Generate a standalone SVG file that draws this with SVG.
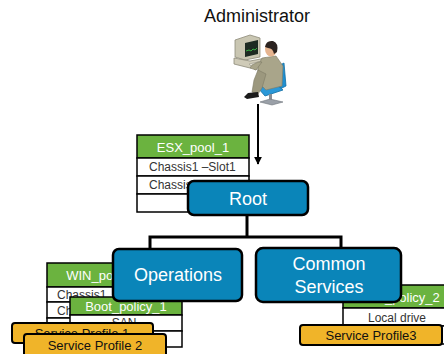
<svg xmlns="http://www.w3.org/2000/svg" width="444" height="354" viewBox="0 0 444 354">
  <defs>
    <style>
      .t { font-family: "Liberation Sans", Arial, sans-serif; }
      .node { fill: #0a85b9; stroke: #000; stroke-width: 2.5; }
      .nodeText { fill: #fff; font-size: 18px; text-anchor: middle; }
      .hdr { fill: #6bb33f; stroke: #000; stroke-width: 1.5; }
      .hdrText { fill: #fff; font-size: 13px; text-anchor: middle; }
      .row { fill: #fff; stroke: #000; stroke-width: 1.5; }
      .rowText { fill: #333; font-size: 12px; }
      .prof { fill: #f0b429; stroke: #000; stroke-width: 2; }
      .profText { fill: #111; font-size: 13px; text-anchor: middle; }
      .wire { fill: none; stroke: #000; stroke-width: 3; }
    </style>
    <marker id="arrow" viewBox="0 0 10 10" refX="9" refY="5" markerWidth="4" markerHeight="4" orient="auto">
      <path d="M0,0 L10,5 L0,10 z" fill="#000"/>
    </marker>
  </defs>

  <rect width="444" height="354" fill="#fff"/>

  <!-- administrator -->
  <g id="admin">
    <text class="t" x="257" y="22" font-size="18" text-anchor="middle" fill="#111">Administrator</text>
    <!-- desk computer -->
    <polygon points="235,40 250,35 260,38 260,57 245,60 235,57" fill="#c9c6b2" stroke="#8d8a78" stroke-width="0.8"/>
    <polygon points="245,43 258,40 258,54 245,57" fill="#1d2a22"/>
    <polyline points="246,51 249,50 251,51 253,49 255,50 257,48" fill="none" stroke="#3fd14a" stroke-width="0.8"/>
    <polygon points="234,58 250,61 266,58 266,64 250,68 234,64" fill="#cfcbb8" stroke="#8d8a78" stroke-width="0.8"/>
    <polygon points="249,64 262,61 268,66 255,70" fill="#e2e0d4" stroke="#9b988a" stroke-width="0.6"/>
    <!-- chair -->
    <polygon points="270,70 284,63 286,86 272,93" fill="#1f8fd0" stroke="#126fa5" stroke-width="0.8"/>
    <polygon points="258,88 276,84 283,90 265,96" fill="#2a98d8" stroke="#126fa5" stroke-width="0.8"/>
    <rect x="269" y="94" width="3" height="7" fill="#8a8f96"/>
    <polygon points="260,102 270,99 283,102 272,105" fill="#9aa0a8" stroke="#6d737a" stroke-width="0.6"/>
    <!-- person -->
    <polygon points="262,58 276,56 283,66 282,86 266,90 258,82 258,66" fill="#a9a58a" stroke="#7d7a64" stroke-width="0.6"/>
    <polygon points="258,70 266,74 262,88 258,94 252,92 254,80" fill="#9c987e" stroke="#7d7a64" stroke-width="0.6"/>
    <polygon points="262,62 256,70 250,68 252,65 258,62" fill="#a9a58a" stroke="#7d7a64" stroke-width="0.6"/>
    <polygon points="248,93 258,92 259,97 247,99 244,97" fill="#1b1b1b"/>
    <ellipse cx="271" cy="49" rx="6" ry="7.5" fill="#e6b48f"/>
    <path d="M265,47 Q266,40 273,41 Q279,43 277,52 L274,54 Q273,48 268,48 Z" fill="#2b2320"/>
    <line x1="258" y1="104" x2="258" y2="112" stroke="#000" stroke-width="2"/>
  </g>

  <!-- connectors -->
  <g id="connectors">
    <line x1="258" y1="110" x2="258" y2="164" stroke="#000" stroke-width="2" marker-end="url(#arrow)"/>
    <polyline class="wire" points="247,214 247,237"/>
    <polyline class="wire" points="150,250 150,237 341,237 341,250"/>
  </g>

  <!-- ESX pool table -->
  <g id="esx-pool">
    <rect class="hdr" x="137" y="135" width="112" height="23"/>
    <text class="t hdrText" x="193" y="152">ESX_pool_1</text>
    <rect class="row" x="137" y="158" width="112" height="18"/>
    <rect class="row" x="137" y="176" width="112" height="18"/>
    <rect class="row" x="137" y="194" width="112" height="18"/>
    <text class="t rowText" x="149" y="171">Chassis1 –Slot1</text>
    <text class="t rowText" x="149" y="189">Chassis1</text>
  </g>

  <g id="root">
    <rect class="node" x="188" y="181" width="120" height="34" rx="6"/>
    <text class="t nodeText" x="248" y="205">Root</text>
  </g>

  <!-- WIN pool table -->
  <g id="win-pool">
    <rect class="hdr" x="47" y="263" width="110" height="24"/>
    <text class="t hdrText" x="102" y="280">WIN_pool_1</text>
    <rect class="row" x="47" y="287" width="110" height="15"/>
    <rect class="row" x="47" y="302" width="110" height="16"/>
    <rect class="row" x="47" y="318" width="110" height="16"/>
    <text class="t rowText" x="57" y="299">Chassis1</text>
    <text class="t rowText" x="57" y="315">Chassis1</text>
  </g>

  <!-- boot policy 1 -->
  <g id="boot-policy-1">
    <rect class="hdr" x="70" y="297" width="112" height="18"/>
    <text class="t hdrText" x="126" y="311">Boot_policy_1</text>
    <rect class="row" x="70" y="315" width="112" height="16"/>
    <rect class="row" x="70" y="331" width="112" height="16"/>
    <text class="t rowText" x="124" y="327" text-anchor="middle" font-size="11">SAN</text>
  </g>

  <g id="operations">
    <rect class="node" x="113" y="249" width="129" height="52" rx="6"/>
    <text class="t nodeText" x="178" y="281">Operations</text>
  </g>

  <g id="service-profile-1">
    <rect class="prof" x="12" y="323" width="141" height="20" rx="3"/>
    <text class="t profText" x="82" y="338">Service Profile 1</text>
  </g>

  <g id="service-profile-2">
    <rect class="prof" x="24" y="334" width="142" height="24" rx="3"/>
    <text class="t profText" x="95" y="350">Service Profile 2</text>
  </g>

  <!-- boot policy 2 -->
  <g id="boot-policy-2">
    <rect class="hdr" x="343" y="285" width="115" height="23"/>
    <text class="t hdrText" x="399" y="302">Boot_policy_2</text>
    <rect class="row" x="343" y="308" width="115" height="18"/>
    <rect class="row" x="343" y="326" width="115" height="18"/>
    <text class="t rowText" x="397" y="322" text-anchor="middle" font-size="11.5">Local drive</text>
  </g>

  <g id="common-services">
    <rect class="node" x="256" y="248" width="145" height="54" rx="7"/>
    <text class="t nodeText" x="329" y="270">Common</text>
    <text class="t nodeText" x="329" y="293">Services</text>
  </g>

  <g id="service-profile-3">
    <rect class="prof" x="300" y="325" width="142" height="20" rx="3"/>
    <text class="t profText" x="371" y="340">Service Profile3</text>
  </g>
</svg>
